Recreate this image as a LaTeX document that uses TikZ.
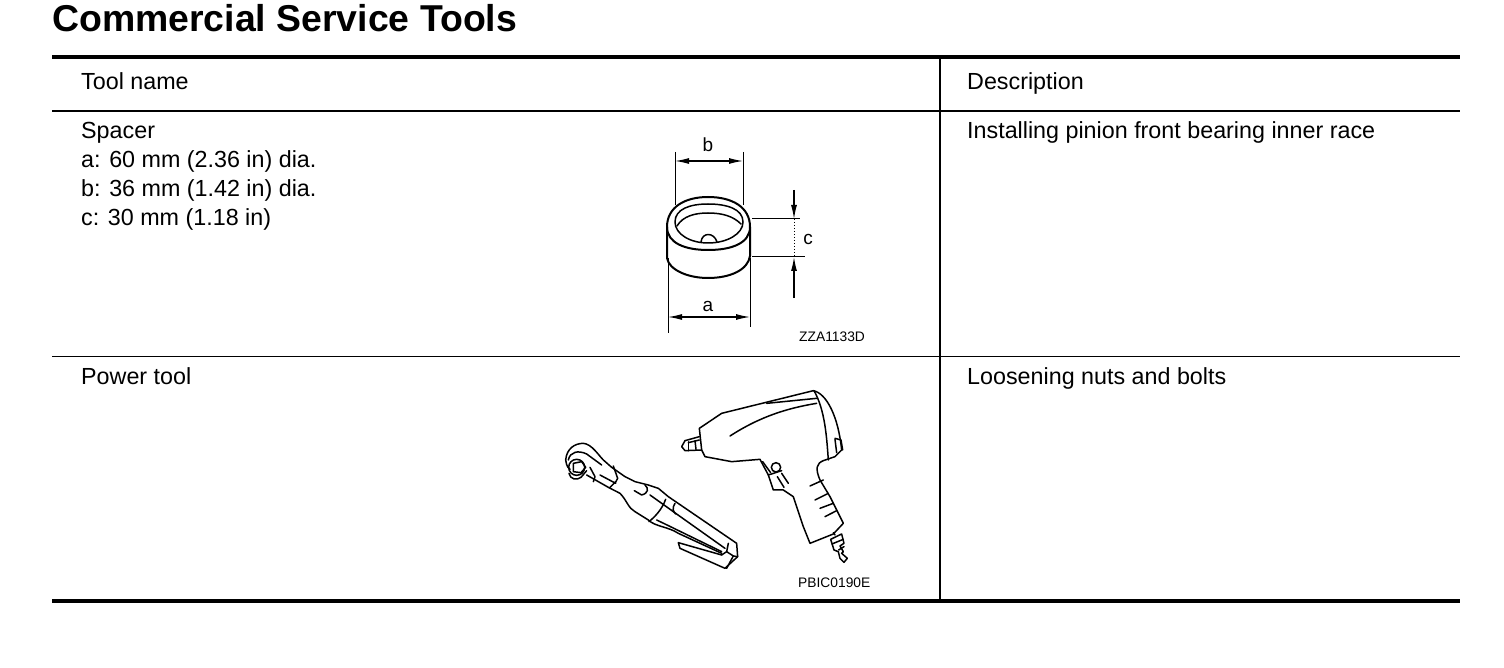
\documentclass[tikz,border=0pt]{standalone}
\usepackage{fontspec}
\setmainfont{Liberation Sans}
\usetikzlibrary{arrows.meta}
\tikzstyle{body}=[inner sep=0pt,anchor=base west,font=\fontsize{23.3}{27}\selectfont]
\tikzstyle{dimlabel}=[inner sep=0pt,anchor=base,font=\fontsize{19}{20}\selectfont]
\tikzstyle{code}=[inner sep=0pt,anchor=base west,font=\fontsize{13.8}{16}\selectfont]
\tikzstyle{ink}=[line width=1.5pt,line join=round,line cap=round]
\tikzstyle{dimline}=[line width=1pt]
\tikzstyle{dimtip}=[line width=1.2pt,-{Latex[length=14pt,width=6pt]}]
\begin{document}
\begin{tikzpicture}[x=1pt,y=-1pt]
    \useasboundingbox (0,0) rectangle (1504,668);
    % title and table
    \draw (52,32) node[inner sep=0pt,anchor=base west,font=\fontsize{37.4}{40}\selectfont\bfseries] (title) {Commercial Service Tools};
    \draw[line width=3.5pt] (52,57) -- (1460,57);
    \draw[line width=2.5pt] (52,111) -- (1460,111);
    \draw[line width=1pt] (52,356) -- (1460,356);
    \draw[line width=4pt] (52,601) -- (1460,601);
    \draw[line width=1.5pt] (940,57) -- (940,600);
    \draw (81,90) node[body] (toolname) {Tool name};
    \draw (967,90) node[body] (description) {Description};
    \draw (81,139) node[body] (spacer) {Spacer};
    \draw (81,168) node[body] (dima) {a: 60 mm (2.36 in) dia.};
    \draw (81,197) node[body] (dimb) {b: 36 mm (1.42 in) dia.};
    \draw (81,226) node[body] (dimc) {c: 30 mm (1.18 in)};
    \draw (967,139) node[body] (install) {Installing pinion front bearing inner race};
    \draw (81,384) node[body] (power) {Power tool};
    \draw (967,384) node[body] (loosen) {Loosening nuts and bolts};
    % spacer
    \draw[ink,line width=2pt] (667,227) .. controls (667,207) and (685,197) .. (708,197) .. controls (732,197) and (750,207) .. (750,227) .. controls (750,243) and (732,250) .. (708,250) .. controls (685,250) and (667,243) .. cycle;
    \draw[ink] (675,222) .. controls (675,209) and (690,204) .. (708,204) .. controls (727,204) and (743,209) .. (743,222) .. controls (743,234) and (727,243) .. (708,243) .. controls (690,243) and (675,234) .. cycle;
    \draw[ink] (677,226) .. controls (683,216) and (695,213) .. (708,213) .. controls (722,213) and (733,216) .. (741,224);
    \draw[ink] (701,242) .. controls (702,232) and (714,232) .. (717,242);
    \draw[ink,line width=2pt] (667,227) -- (667,258) .. controls (669,270) and (688,278) .. (708,278) .. controls (730,278) and (748,270) .. (750,256) -- (750,227);
    % dimensions of spacer
    \draw[dimline] (668,258) -- (668,333);
    \draw[dimline] (750,258) -- (750,327);
    \draw[dimline] (675,152) -- (675,205);
    \draw[dimline] (743,152) -- (743,205);
    \draw[dimline] (752,219) -- (800,219);
    \draw[dimline] (752,257) -- (805,257);
    \coordinate (amid) at (709,317);
    \coordinate (bmid) at (709,161);
    \coordinate (ctop) at (794,190);
    \coordinate (cbot) at (794,298);
    \draw[dimtip] (amid) -- (668,317);
    \draw[dimtip] (amid) -- (750,317);
    \draw[dimtip] (bmid) -- (675,161);
    \draw[dimtip] (bmid) -- (743,161);
    \draw[dimtip] (ctop) -- (794,219);
    \draw[dimtip] (cbot) -- (794,257);
    \draw[dimline,dotted] (794,219) -- (794,257);
    \draw (708,152) node[dimlabel] (lblb) {b};
    \draw (708,311) node[dimlabel] (lbla) {a};
    \draw (808,245) node[dimlabel] (lblc) {c};
    \draw (799,341) node[code] (codea) {ZZA1133D};
    % ratchet
    \begin{scope}[shift={(545,380)},x=0.3333pt,y=-0.3333pt]
        \draw[ink] (62,240) .. controls (65,205) and (90,190) .. (115,190) .. controls (140,192) and (160,225) .. (175,240) -- (200,262) -- (240,290) -- (270,305) -- (310,315) -- (340,325) -- (370,350) -- (575,490) -- (578,530) -- (540,565) -- (405,505) -- (400,488) -- (530,525);
        \draw[ink] (62,240) .. controls (65,260) and (70,265) .. (75,268);
        \draw[ink] (70,240) .. controls (75,215) and (100,210) .. (125,222) -- (170,255);
        \draw[ink] (95,262) circle (24);
        \draw[ink] (85,250) -- (110,245) -- (122,262) -- (108,278) -- (85,275) -- cycle;
        \draw[ink] (72,280) .. controls (75,298) and (95,302) .. (108,292) -- (125,272);
        \draw[ink] (125,285) -- (190,322) -- (225,340) .. controls (245,360) and (250,385) .. (270,395) -- (310,420) .. controls (330,440) and (370,440) .. (400,460) -- (530,520);
        \draw[ink] (135,262) -- (150,290) -- (145,305);
        \draw[ink] (205,258) -- (218,295) -- (210,310);
        \draw[ink] (165,285) -- (212,310);
        \draw[ink] (195,322) -- (212,305);
        \draw[ink] (268,332) -- (290,345) .. controls (310,340) and (312,325) .. (300,315);
        \draw[ink] (315,345) -- (385,395);
        \draw[ink] (362,358) .. controls (350,390) and (330,410) .. (312,425);
        \draw[ink] (390,370) .. controls (380,385) and (385,395) .. (392,402);
        \draw[ink] (385,395) -- (540,505);
        \draw[ink] (335,420) -- (360,432) -- (530,515);
        \draw[ink] (550,490) -- (545,515) -- (530,525);
        \draw[ink] (545,515) -- (565,528) -- (578,530);
        \draw[ink] (545,565) -- (565,528);
    \end{scope}
    % impact gun
    \begin{scope}[shift={(660,380)},x=0.3333pt,y=-0.3333pt]
        \draw[ink] (118,145) -- (185,100) -- (460,32) .. controls (500,40) and (535,110) .. (545,210) -- (525,230) -- (490,242) .. controls (470,250) and (465,265) .. (480,300) -- (510,350) -- (550,430) -- (520,462) -- (450,490) -- (430,440) -- (400,350) -- (370,330) -- (340,330) -- (325,285) -- (300,238) -- (215,245) -- (135,230) -- (125,210) -- cycle;
        \draw[ink] (118,170) -- (75,182) -- (65,200) -- (75,212) -- (125,210);
        \draw[ink] (85,185) -- (85,212);
        \draw[ink] (105,182) -- (108,208);
        \draw[ink] (85,188) -- (118,180);
        \draw[ink] (210,168) .. controls (300,110) and (380,85) .. (470,70);
        \draw[ink] (320,70) -- (470,55);
        \draw[ink] (462,32) .. controls (495,90) and (500,170) .. (505,240);
        \draw[ink] (525,175) -- (543,180) -- (548,210);
        \draw[ink] (525,178) -- (530,218);
        \draw[ink] (348,262) circle (14);
        \draw[ink] (308,245) -- (332,278);
        \draw[ink] (325,285) -- (365,272);
        \draw[ink] (365,280) -- (385,310);
        \draw[ink] (352,290) -- (372,322);
        \draw[ink] (450,318) -- (490,300);
        \draw[ink] (465,360) -- (505,340);
        \draw[ink] (480,385) -- (520,370);
        \draw[ink] (495,410) -- (530,392);
        \draw[ink] (512,478) -- (545,462) -- (552,490) -- (540,498) -- (550,515) -- (545,520) -- (562,535) -- (552,547) -- (540,535) -- (535,515) -- (522,510) -- cycle;
        \draw[ink] (525,465) -- (520,458);
        \draw[ink] (516,492) -- (550,478);
        \draw[ink] (536,510) -- (552,500);
    \end{scope}
    \draw (798,587) node[code] (codeb) {PBIC0190E};
\end{tikzpicture}
\end{document}
